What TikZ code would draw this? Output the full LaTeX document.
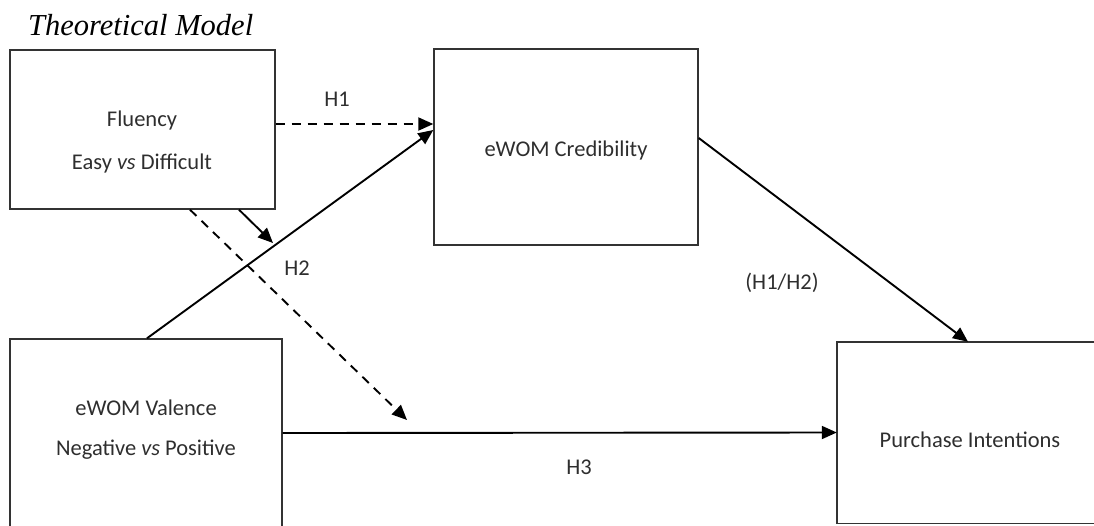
\documentclass[tikz,border=0pt]{standalone}
\usepackage{fontspec}
\setmainfont{Carlito}
\newfontfamily\titlefont{Liberation Serif}
\usetikzlibrary{arrows.meta}
\definecolor{boxline}{gray}{0.2}
\definecolor{txt}{gray}{0.18}
\tikzset{
  box/.style={draw=boxline, line width=1.4pt, rectangle, inner sep=0pt},
  openbox/.style={rectangle, inner sep=0pt},
  boxedge/.style={draw=boxline, line width=1.4pt},
  lbl/.style={text=txt, font=\fontsize{22.5}{26}\selectfont, inner sep=0pt},
  conn/.style={line width=1.9pt, -{Triangle[length=15pt,width=13pt]}},
  dconn/.style={conn, dash pattern=on 9pt off 7pt},
}
\begin{document}
\begin{tikzpicture}[x=1pt,y=-1pt]
\useasboundingbox (0,0) rectangle (1094,525);
\clip (0,0) rectangle (1094,525);
% title
\node[anchor=base west, inner sep=0pt, font=\titlefont\itshape\fontsize{30.5}{34}\selectfont] (title) at (28,35) {Theoretical Model};
% boxes
\node[box, minimum width=265pt, minimum height=159pt] (flu) at (142.5,129.5) {};
\node[box, minimum width=264pt, minimum height=196pt] (cred) at (566,147) {};
\node[box, minimum width=272pt, minimum height=188pt] (val) at (146,433) {};
\node[openbox, minimum width=400pt, minimum height=181pt] (pur) at (1037,432.5) {};
\draw[boxedge] (pur.north east) -- (pur.north west) -- (pur.south west) -- (pur.south east);
% box texts
\node[lbl] (fluA) at (142,120) {Fluency};
\node[lbl] (fluB) at (142,163) {Easy \textit{vs} Difficult};
\node[lbl] (credT) at (566,150) {eWOM Credibility};
\node[lbl] (valA) at (146,408) {eWOM Valence};
\node[lbl] (valB) at (146,450) {Negative \textit{vs} Positive};
\node[lbl] (purT) at (970,440) {Purchase Intentions};
% free ends
\coordinate (modtip) at (273,243);
\coordinate (h3tip) at (407,420);
% connectors
\draw[dconn] ([yshift=5.5pt]flu.east) -- ([yshift=23pt]cred.west);
\draw[conn] ([xshift=1pt]val.north) -- ([yshift=17pt]cred.west);
\draw[conn] ([xshift=96.5pt]flu.south) -- (modtip);
\draw[dconn] ([xshift=47.5pt]flu.south) -- (h3tip);
\draw[conn] ([yshift=9pt]cred.east) -- ([xshift=-69pt]pur.north);
\draw[conn] (val.east) -- (pur.west);
% labels
\node[lbl] (h1) at (337,99) {H1};
\node[lbl] (h2) at (297,268) {H2};
\node[lbl] (h12) at (782,283) {(H1/H2)};
\node[lbl] (h3) at (579,467) {H3};
\end{tikzpicture}
\end{document}
